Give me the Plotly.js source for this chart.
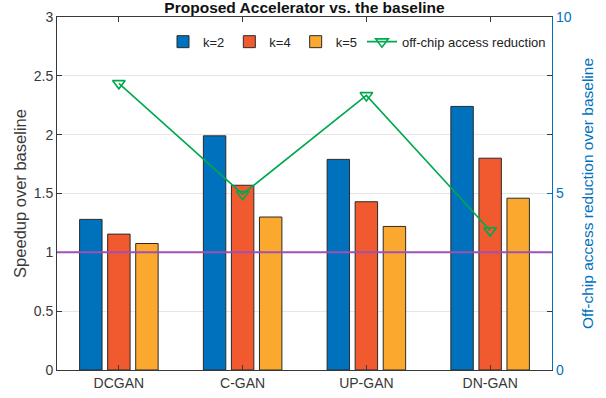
<!DOCTYPE html>
<html>
<head>
<meta charset="utf-8">
<script src="https://cdn.plot.ly/plotly-3.0.1.min.js"></script>
<style>
  html, body { margin: 0; padding: 0; background: #fff; }
  #chart { width: 606px; height: 398px; }
</style>
</head>
<body>
<div id="chart"></div>
<script>
// Networks compared
const categories = ['DCGAN', 'C-GAN', 'UP-GAN', 'DN-GAN'];

// Speedup over baseline for each kernel split k
const speedupK2 = [1.28, 1.99, 1.79, 2.24];
const speedupK4 = [1.155, 1.57, 1.43, 1.80];
const speedupK5 = [1.075, 1.30, 1.22, 1.46];

// Off-chip access reduction (right axis)
const offChipReduction = [8.12, 4.98, 7.78, 3.95];

// Baseline speedup level
const baselineLevel = 1;

const seriesNames = ['k=2', 'k=4', 'k=5', 'off-chip access reduction'];
const barColors = ['#0072BD', '#F05A2E', '#FBA92E'];
const lineColor = '#00A84F';
const axisGray = '#383838';
const axisBlue = '#0072BD';
const fontFamily = 'Liberation Sans, Arial, Helvetica, sans-serif';

const barSets = [speedupK2, speedupK4, speedupK5];
const traces = barSets.map((vals, i) => ({
  type: 'bar',
  name: seriesNames[i],
  x: categories,
  y: vals,
  marker: { color: barColors[i], line: { color: '#2b2b2b', width: 1 } },
  hoverinfo: 'x+y'
}));

traces.push({
  type: 'scatter',
  mode: 'lines+markers',
  name: seriesNames[3],
  x: categories,
  y: offChipReduction,
  yaxis: 'y2',
  line: { color: lineColor, width: 1.6 },
  marker: { symbol: 'triangle-down-open', size: 11, color: lineColor, line: { color: lineColor, width: 1.6 } }
});

const layout = {
  width: 606,
  height: 398,
  margin: { l: 57, r: 54, t: 17, b: 28, pad: 0 },
  paper_bgcolor: '#ffffff',
  plot_bgcolor: '#ffffff',
  font: { family: fontFamily, size: 14, color: axisGray },
  title: {
    text: '<b>Proposed Accelerator vs. the baseline</b>',
    font: { family: fontFamily, size: 15.5, color: '#111111' },
    x: 0.5, xref: 'paper', xanchor: 'center',
    y: 0.982, yref: 'container', yanchor: 'middle'
  },
  barmode: 'group',
  bargap: 0.32,
  bargroupgap: 0.2,
  showlegend: true,
  legend: {
    orientation: 'h',
    x: 0.998, xanchor: 'right',
    y: 0.93, yanchor: 'middle',
    bgcolor: 'rgba(0,0,0,0)',
    font: { family: fontFamily, size: 13, color: '#222222' },
    itemwidth: 30,
    tracegroupgap: 0
  },
  xaxis: {
    type: 'category',
    range: [-0.5, 3.5],
    showline: true, linecolor: axisGray, linewidth: 1,
    mirror: 'ticks',
    ticks: 'inside', ticklen: 5, tickcolor: axisGray,
    showgrid: false, zeroline: false,
    tickfont: { size: 14, color: axisGray }
  },
  yaxis: {
    range: [0, 3],
    tickvals: [0, 0.5, 1, 1.5, 2, 2.5, 3],
    ticktext: ['0', '0.5', '1', '1.5', '2', '2.5', '3'],
    showline: true, linecolor: axisGray, linewidth: 1,
    mirror: 'ticks',
    ticks: 'inside', ticklen: 5, tickcolor: axisGray,
    showgrid: true, gridcolor: '#e6e6e6', gridwidth: 1,
    zeroline: false,
    tickfont: { size: 14, color: axisGray },
    title: { text: 'Speedup over baseline', font: { size: 16.5, color: '#3a3a3a' }, standoff: 2 }
  },
  yaxis2: {
    overlaying: 'y',
    side: 'right',
    range: [0, 10],
    tickvals: [0, 5, 10],
    showline: true, linecolor: axisBlue, linewidth: 1.2,
    ticks: 'inside', ticklen: 5, tickcolor: axisBlue,
    showgrid: false, zeroline: false,
    tickfont: { size: 14, color: axisBlue },
    title: { text: 'Off-chip access reduction over baseline', font: { size: 15.5, color: axisBlue }, standoff: 11 }
  },
  shapes: [{
    type: 'line',
    xref: 'paper', x0: 0, x1: 1,
    yref: 'y', y0: baselineLevel, y1: baselineLevel,
    line: { color: '#A04FB4', width: 2 },
    layer: 'above'
  }]
};

Plotly.newPlot('chart', traces, layout, { displayModeBar: false, staticPlot: true });
</script>
</body>
</html>
